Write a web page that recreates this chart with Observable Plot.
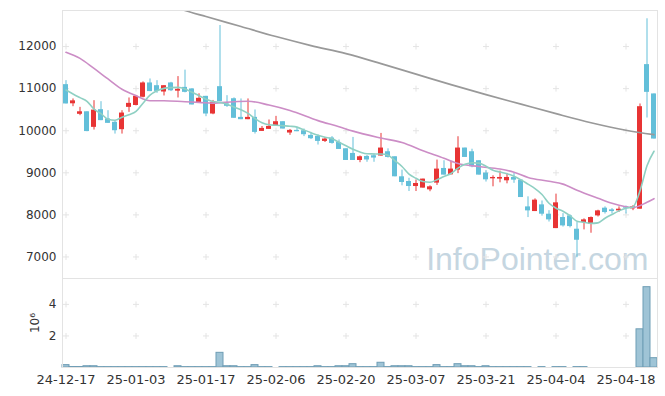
<!DOCTYPE html>
<html>
<head>
<meta charset="utf-8">
<script src="https://cdn.jsdelivr.net/npm/d3@7"></script>
<script src="https://cdn.jsdelivr.net/npm/@observablehq/plot@0.6"></script>
<style>
  html, body { margin: 0; padding: 0; background: #fff; }
  #chart { position: relative; width: 665px; height: 396px; overflow: hidden; }
  #chart svg { display: block; }
  #vol [aria-label^="x-axis"] text { font-size: 13px; }
</style>
</head>
<body>
<div id="chart"><div id="price"></div><div id="vol"></div></div>
<script>
// ---- data ----
const dates = ["24-12-17","24-12-18","24-12-19","24-12-20","24-12-23","24-12-24","24-12-26","24-12-27","24-12-30",
  "25-01-02","25-01-03","25-01-06","25-01-07","25-01-08","25-01-09","25-01-10","25-01-13","25-01-14","25-01-15","25-01-16","25-01-17",
  "25-01-20","25-01-21","25-01-22","25-01-23","25-01-24","25-01-31",
  "25-02-03","25-02-04","25-02-05","25-02-06","25-02-07","25-02-10","25-02-11","25-02-12","25-02-13","25-02-14","25-02-17","25-02-18","25-02-19","25-02-20","25-02-21","25-02-24","25-02-25","25-02-26","25-02-27","25-02-28",
  "25-03-04","25-03-05","25-03-06","25-03-07","25-03-10","25-03-11","25-03-12","25-03-13","25-03-14","25-03-17","25-03-18","25-03-19","25-03-20","25-03-21","25-03-24","25-03-25","25-03-26","25-03-27","25-03-28","25-03-31",
  "25-04-01","25-04-02","25-04-03","25-04-04","25-04-07","25-04-08","25-04-09","25-04-10","25-04-11","25-04-14","25-04-15","25-04-16","25-04-17","25-04-18","25-04-21","25-04-22","25-04-23","25-04-24"];

const open = [11095,10640,10390,10450,10080,10500,10280,10200,10025,10555,
  10600,10795,11135,11070,10920,11135,10940,11030,10993,10650,
  10817,10397,11047,10636,10760,10317,10262,10317,9984,10032,
  10119,10214,9945,10008,10000,9889,9865,9746,9826,9722,
  9571,9460,9293,9389,9405,9398,9500,9381,8905,8793,
  8674,8636,8595,8755,9103,8952,9064,9588,9500,9286,
  8993,8857,8850,8810,8889,8826,8190,8079,8238,8016,
  7674,7937,7976,7659,7818,7778,7976,8159,8119,8095,
  8190,8143,8135,11571,10874];
const high = [11190,10755,10555,10450,10714,10690,10476,10238,10476,10778,
  10840,11160,11230,11190,11071,11150,11286,11440,11000,10877,
  10817,10720,12500,10833,10780,10755,10755,10493,10100,10255,
  10341,10214,10030,10080,10040,9960,9900,9840,9860,9780,
  9571,9841,9400,9410,9450,9936,9570,9381,9064,8870,
  8830,8850,8690,9302,9286,9270,9857,9588,9560,9286,
  9050,8928,9040,8985,8985,8826,8429,8380,8330,8100,
  8493,8030,8000,7818,7905,7950,8110,8190,8150,8190,
  8210,8220,10636,12660,10874];
const low = [10636,10571,10357,9976,10016,10238,10174,9920,9920,10436,
  10590,10780,10929,10888,10826,10930,10778,10900,10612,10650,
  10333,10380,10690,10555,10295,10262,10262,9921,9984,10032,
  10119,10040,9890,9976,9860,9790,9660,9720,9680,9555,
  9293,9293,9240,9250,9250,9398,9350,8905,8690,8555,
  8555,8636,8550,8700,8945,8952,8980,9365,9120,8945,
  8780,8667,8762,8738,8750,8412,7936,8079,7970,7830,
  7674,7710,7690,6983,7643,7564,7950,8020,8020,8060,
  8020,8100,8135,10302,9802];
const close = [10636,10710,10450,9980,10490,10240,10175,10000,10420,10650,
  10820,11135,10930,10935,11070,10950,10985,10912,10612,10770,
  10397,10675,10690,10580,10295,10262,10317,9960,10055,10103,
  10214,10040,10008,9976,9905,9810,9746,9802,9698,9555,
  9293,9293,9381,9305,9350,9588,9365,8905,8770,8674,
  8746,8850,8667,9088,8945,9088,9588,9365,9143,8945,
  8833,8889,8889,8889,8826,8412,8095,8350,8016,7881,
  8286,7738,7722,7397,7881,7937,8095,8055,8079,8135,
  8159,8190,10571,10912,9802];
const volume = [150000,30000,30000,80000,80000,25000,25000,25000,25000,25000,
  25000,25000,25000,25000,25000,0,80000,25000,25000,25000,
  25000,25000,930000,80000,80000,25000,25000,150000,25000,25000,
  0,25000,25000,25000,25000,25000,80000,25000,25000,80000,
  80000,210000,25000,25000,25000,300000,25000,80000,80000,80000,
  25000,25000,25000,150000,25000,25000,210000,80000,80000,25000,
  80000,25000,25000,25000,25000,25000,25000,0,25000,0,
  25000,25000,0,25000,25000,0,0,0,0,0,
  0,0,2420000,5090000,590000];

// 5-day moving average (teal), read per day
const ma5 = [10967,10874,10786,10700,10512,10405,10274,10250,10321,10381,
  10457,10655,10845,10948,11007,11024,11029,10993,10912,10833,
  10750,10695,10671,10629,10564,10500,10412,10288,10190,10143,
  10131,10119,10107,10086,10019,9952,9890,9843,9810,9726,
  9643,9560,9495,9452,9448,9445,9419,9286,9150,8969,
  8869,8793,8774,8836,8914,8983,9112,9202,9240,9229,
  9155,9062,9017,8979,8919,8833,8731,8626,8486,8276,
  8159,8086,7981,7850,7824,7798,7810,7919,8010,8095,
  8159,8190,8571,9167,9512];
// 20-day moving average (pink), read at these day indices
const ma20At = [0,2,4,6,8,10,12,14,17,19,21,24,26,29,32,36,39,41,45,48,51,54,56,59,62,64,66,69,71,73,76,78,81,83,84];
const ma20 = [11864,11720,11480,11230,10985,10833,10714,10714,10688,10674,10655,10690,10700,10610,10480,10240,10095,9990,9826,9718,9525,9345,9220,9148,9090,9015,8890,8800,8731,8585,8395,8275,8174,8300,8385];
// long moving average (gray), read at these day indices
const maLongAt = [15,17,20,25,30,35,40,45,50,55,60,65,70,75,80,84];
const maLong = [12985,12857,12714,12476,12238,12024,11833,11595,11345,11095,10857,10631,10405,10190,10012,9905];

const priceTicks = [7000,8000,9000,10000,11000,12000];
const volumeTicks = [2000000,4000000];
const xTickDates = ["24-12-17","25-01-03","25-01-17","25-02-06","25-02-20","25-03-07","25-03-21","25-04-04","25-04-18"];
const watermark = ["InfoPointer.com"];

// ---- build tables ----
const candles = dates.map((d, i) => ({date: d, open: open[i], high: high[i], low: low[i], close: close[i], volume: volume[i]}));
const ma5Rows = ma5.map((v, i) => ({date: dates[i], v}));
const ma20Rows = ma20At.map((k, j) => ({date: dates[k], v: ma20[j]}));
const maLongRows = maLongAt.map((k, j) => ({date: dates[k], v: maLong[j]}));
const priceGrid = xTickDates.flatMap(d => priceTicks.map(v => ({date: d, v})));
const volGrid = xTickDates.flatMap(d => volumeTicks.map(v => ({date: d, v})));

const UP = "#e83434", DOWN = "#63bfd9";
const candleColor = d => d.close >= d.open ? UP : DOWN;
const cross = {draw(ctx) { const s = 3; ctx.moveTo(-s, 0); ctx.lineTo(s, 0); ctx.moveTo(0, -s); ctx.lineTo(0, s); }};
const font = {fontFamily: "DejaVu Sans", fontSize: "12px", color: "#333", background: "transparent", overflow: "visible"};

const pricePlot = Plot.plot({
  width: 665, height: 278,
  marginTop: 10, marginBottom: 0, marginLeft: 62, marginRight: 8,
  style: font,
  x: {type: "band", domain: dates, padding: 0, axis: null},
  y: {domain: [6488, 12857], ticks: priceTicks, tickFormat: "d", tickSize: 0, tickPadding: 6, label: null},
  marks: [
    Plot.text(watermark, {text: d => d, frameAnchor: "bottom-right", textAnchor: "end", lineAnchor: "bottom", dx: -9, dy: -9,
      fontSize: 32, fontFamily: "Liberation Sans", fill: "#c5d6e1"}),
    Plot.dot(priceGrid, {x: "date", y: "v", symbol: cross, r: 3, stroke: "#e4e4e4", fill: "none", strokeWidth: 1}),
    Plot.ruleX(candles, {x: "date", y1: "low", y2: "high", stroke: candleColor, strokeWidth: 1}),
    Plot.barY(candles, {x: "date", y1: "open", y2: "close", fill: candleColor, insetLeft: 1, insetRight: 1}),
    Plot.line(maLongRows, {x: "date", y: "v", stroke: "#999", strokeWidth: 1.7, curve: "monotone-x", clip: true}),
    Plot.line(ma20Rows, {x: "date", y: "v", stroke: "#cc8dc6", strokeWidth: 1.6, curve: "monotone-x"}),
    Plot.line(ma5Rows, {x: "date", y: "v", stroke: "#8fd0c3", strokeWidth: 1.6, curve: "monotone-x"}),
    Plot.frame({stroke: "#e3e3e3"})
  ]
});

const volPlot = Plot.plot({
  width: 665, height: 118,
  marginTop: 0, marginBottom: 29, marginLeft: 62, marginRight: 8,
  style: font,
  x: {type: "band", domain: dates, padding: 0, ticks: xTickDates, tickSize: 0, tickPadding: 7, label: null},
  y: {domain: [0, 5640000], ticks: volumeTicks, tickFormat: d => d / 1e6, tickSize: 0, tickPadding: 6,
      label: "10⁶", labelAnchor: "center", labelOffset: 32, labelArrow: "none"},
  marks: [
    Plot.dot(volGrid, {x: "date", y: "v", symbol: cross, r: 3, stroke: "#e4e4e4", fill: "none", strokeWidth: 1}),
    Plot.barY(candles, {x: "date", y: "volume", fill: "#9fc4d6", stroke: "#6f9db5", strokeWidth: 1}),
    Plot.frame({stroke: "#e3e3e3"})
  ]
});

document.getElementById("price").appendChild(pricePlot);
document.getElementById("vol").appendChild(volPlot);
</script>
</body>
</html>
